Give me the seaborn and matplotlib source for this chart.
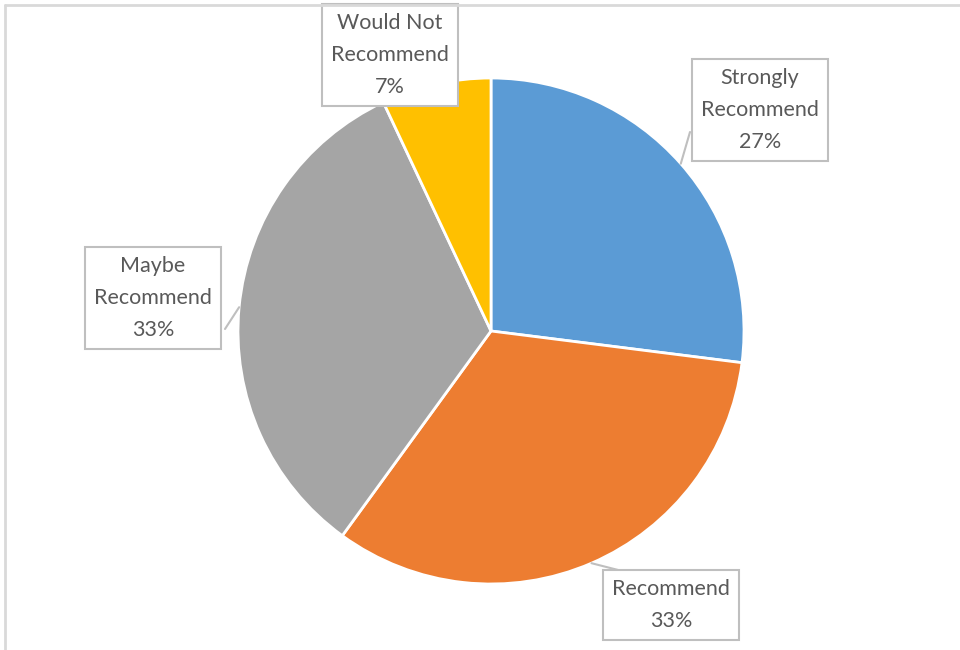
import numpy as np
import seaborn as sns
import matplotlib.pyplot as plt
from matplotlib.lines import Line2D

# Survey answers
labels = ["Strongly\nRecommend", "Recommend", "Maybe\nRecommend", "Would Not\nRecommend"]
shares = [27, 33, 33, 7]
colors = ["#5B9BD5", "#ED7D31", "#A5A5A5", "#FFC000"]

# label box centres and leader-line ends, in pixels (from top-left)
box_pos = [(760, 110), (671, 605), (153, 298), (390, 55)]
leader_end = [(690, 132), (626, 572), (225, 329), (382, 104)]

W, H = 960, 650
sns.set_style("white")
plt.rcParams['font.family'] = ['Lato', 'DejaVu Sans']

fig = plt.figure(figsize=(W / 100, H / 100), dpi=100)
ax = fig.add_axes([0, 0, 1, 1])

cx, cy, r = 491, H - 331, 253
wedges, _ = ax.pie(shares, colors=colors, startangle=90, counterclock=False,
                   center=(cx, cy), radius=r, frame=True,
                   wedgeprops=dict(edgecolor="white", linewidth=2))
ax.set_xlim(0, W)
ax.set_ylim(0, H)
ax.set_aspect("equal")
ax.axis("off")

total = sum(shares)
for w, lab, val, (bx, by), (lx, ly) in zip(wedges, labels, shares, box_pos, leader_end):
    mid = np.deg2rad((w.theta1 + w.theta2) / 2)
    px, py = cx + r * np.cos(mid), cy + r * np.sin(mid)
    ax.plot([px, lx], [py, H - ly], color="#bfbfbf", lw=1.5, zorder=1)
    ax.text(bx, H - by, f"{lab}\n{round(val / total * 100)}%", ha="center", va="center",
            fontsize=15.5, color="#595959", linespacing=1.75, zorder=5,
            bbox=dict(boxstyle="square,pad=0.4", facecolor="white",
                      edgecolor="#bfbfbf", linewidth=1.5))

# chart frame (only top and left edges visible in the crop)
fig.add_artist(Line2D([5 / W, 1], [1 - 5 / H, 1 - 5 / H], color="#d9d9d9", lw=2,
                      transform=fig.transFigure))
fig.add_artist(Line2D([5 / W, 5 / W], [0, 1 - 5 / H], color="#d9d9d9", lw=2,
                      transform=fig.transFigure))

fig.savefig("out.png", dpi=100, facecolor="white")
